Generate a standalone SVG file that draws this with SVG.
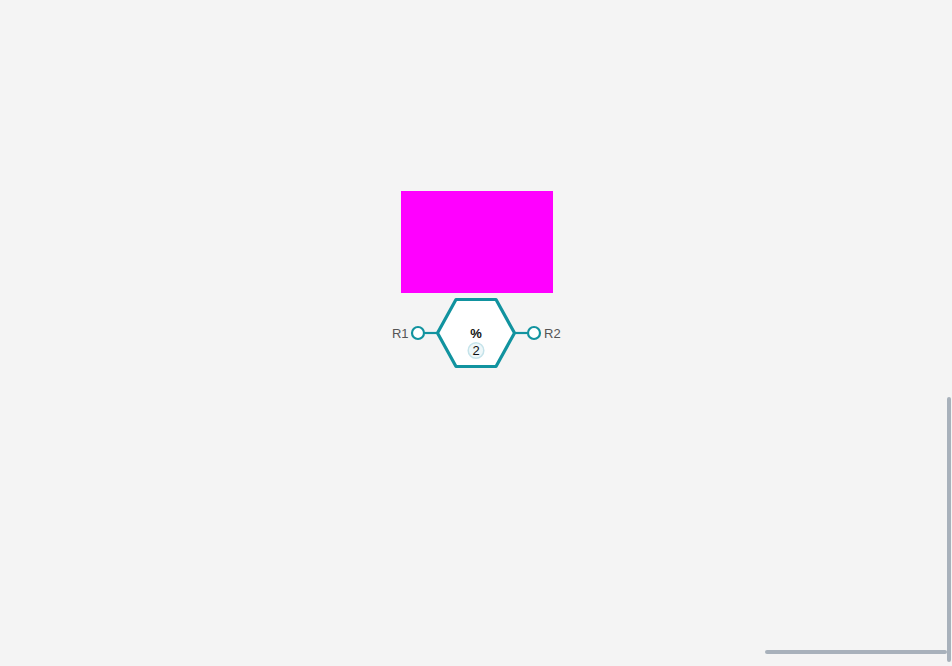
<svg xmlns="http://www.w3.org/2000/svg" width="952" height="666" viewBox="0 0 952 666">
<style>
.port{fill:#ffffff;stroke:#11939f;stroke-width:2.2}
.plink{stroke:#11939f;stroke-width:2.2}
.plabel{font-family:"Liberation Sans",Arial,sans-serif;font-size:13px;fill:#555555}
.sb{stroke:#a8b1bb;stroke-width:4;stroke-linecap:round}
</style>
<rect x="0" y="0" width="952" height="666" fill="#f4f4f4"/>
<g id="block">
<rect x="401" y="191" width="152" height="102" fill="#ff00ff"/>
</g>
<g id="connectors">
<line class="plink" x1="424.5" y1="333" x2="437" y2="333"/>
<line class="plink" x1="515" y1="333" x2="527.5" y2="333"/>
</g>
<g id="node-mod">
<polygon points="437.5,333 456,299.5 496,299.5 514.5,333 496,366.5 456,366.5" fill="#ffffff" stroke="#11939f" stroke-width="3.2" stroke-linejoin="round"/>
<text x="476" y="338" text-anchor="middle" font-family="Liberation Sans,Arial,sans-serif" font-size="13" font-weight="bold" fill="#111111">%</text>
<circle cx="476" cy="350.5" r="7.8" fill="#eef7f9" stroke="#c5e3ea" stroke-width="1.5"/>
<text x="476" y="355.2" text-anchor="middle" font-family="Liberation Sans,Arial,sans-serif" font-size="13" fill="#111111">2</text>
</g>
<g id="port-R1">
<circle class="port" cx="418" cy="333" r="6"/>
<text class="plabel" x="408.5" y="338.3" text-anchor="end">R1</text>
</g>
<g id="port-R2">
<circle class="port" cx="534" cy="333" r="6"/>
<text class="plabel" x="544" y="338.3">R2</text>
</g>
<g id="scrollbars">
<line class="sb" x1="949" y1="399" x2="949" y2="660"/>
<line class="sb" x1="767" y1="652" x2="945" y2="652"/>
</g>
</svg>
